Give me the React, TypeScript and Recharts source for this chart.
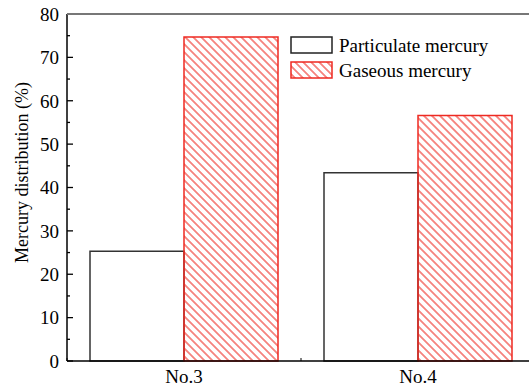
import { BarChart, Bar, XAxis, YAxis, Legend, ReferenceLine } from "recharts";

const sites = ["No.3", "No.4"];
const particulate = [25.3, 43.4];
const gaseous = [74.7, 56.6];
const yTicks = [0, 5, 10, 15, 20, 25, 30, 35, 40, 45, 50, 55, 60, 65, 70, 75, 80];

const FONT = '"Liberation Serif", Tinos, "DejaVu Serif", serif';
const RED = "#ee2a22";
const CHART_W = 540;
const CHART_H = 387;
const MARGIN = { top: 14, right: 5, left: 0, bottom: 0 };
const Y_W = 67;

const data = sites.map((site, i) => ({
  site,
  particulate: particulate[i],
  gaseous: gaseous[i],
}));

const halfBand = (CHART_W - MARGIN.left - MARGIN.right - Y_W) / sites.length / 2;
const textStyle = { fontFamily: FONT, fontSize: 19 };

function HatchDef({ id }: { id: string }) {
  return (
    <pattern id={id} patternUnits="userSpaceOnUse" width={10} height={5.66} patternTransform="rotate(45)">
      <line x1={0} y1={2.83} x2={10} y2={2.83} stroke={RED} strokeWidth={1.1} />
    </pattern>
  );
}

function YTick(props: any) {
  const { x, y, payload } = props;
  const major = payload.value % 10 === 0;
  return (
    <g>
      <line x1={x} x2={x + (major ? 6 : 3)} y1={y} y2={y} stroke="#000" strokeWidth={1.3} />
      {major && (
        <text x={x - 8} y={y} dy="0.36em" textAnchor="end" style={textStyle} fill="#000">
          {payload.value}
        </text>
      )}
    </g>
  );
}

function XTick(props: any) {
  const { x, y, payload, index, visibleTicksCount } = props;
  const half = payload.offset || halfBand;
  return (
    <g>
      <line x1={x - half} x2={x - half} y1={y} y2={y - 3} stroke="#000" />
      {index === visibleTicksCount - 1 && (
        <line x1={x + half} x2={x + half} y1={y} y2={y - 3} stroke="#000" />
      )}
      <text x={x} y={y + 22} textAnchor="middle" style={textStyle} fill="#000">
        {payload.value}
      </text>
    </g>
  );
}

function LegendBox() {
  const rows = [
    { name: "Particulate mercury", fill: "#fff", stroke: "#222" },
    { name: "Gaseous mercury", fill: "url(#hatch-legend)", stroke: RED },
  ];
  return (
    <div style={{ fontFamily: FONT, fontSize: 19, color: "#000", lineHeight: "25px" }}>
      {rows.map((r, i) => (
        <div key={r.name} style={{ display: "flex", alignItems: "center", height: 25 }}>
          <svg width={44} height={19} style={{ marginRight: 5 }}>
            {i === 1 && (
              <defs>
                <HatchDef id="hatch-legend" />
              </defs>
            )}
            <rect x={1} y={1} width={41} height={16} fill={r.fill} stroke={r.stroke} strokeWidth={1.5} />
          </svg>
          <span>{r.name}</span>
        </div>
      ))}
    </div>
  );
}

export default function App() {
  return (
    <div style={{ position: "fixed", left: 0, top: 0, width: 529, height: 387, overflow: "hidden", background: "#fff" }}>
      <BarChart width={CHART_W} height={CHART_H} data={data} margin={MARGIN} barCategoryGap={23} barGap={0}>
        <defs>
          <HatchDef id="hatch" />
        </defs>
        <XAxis
          dataKey="site"
          height={26}
          tickSize={0}
          tickMargin={0}
          tick={<XTick />}
          tickLine={false}
          axisLine={{ stroke: "#000", strokeWidth: 1.5 }}
        />
        <YAxis
          width={Y_W}
          domain={[0, 80]}
          ticks={yTicks}
          interval={0}
          tickSize={0}
          tickMargin={0}
          tick={<YTick />}
          tickLine={false}
          axisLine={{ stroke: "#000", strokeWidth: 1.5 }}
          label={({ viewBox }: any) => {
            const cx = 22;
            const cy = viewBox ? viewBox.y + viewBox.height / 2 - 15 : 172;
            return (
              <text x={cx} y={cy} transform={`rotate(-90, ${cx}, ${cy})`} textAnchor="middle" dominantBaseline="central" style={{ fontFamily: FONT, fontSize: 18 }} fill="#000">
                Mercury distribution (%)
              </text>
            );
          }}
        />
        <ReferenceLine y={80} stroke="#777" strokeWidth={1.4} ifOverflow="visible" />
        <Legend
          layout="vertical"
          align="center"
          verticalAlign="middle"
          content={<LegendBox />}
          wrapperStyle={{ top: 33, left: 290, width: "auto" }}
        />
        <Bar dataKey="particulate" name="Particulate mercury" fill="#fff" stroke="#333" strokeWidth={1.5} isAnimationActive={false} />
        <Bar dataKey="gaseous" name="Gaseous mercury" fill="url(#hatch)" stroke={RED} strokeWidth={1.5} isAnimationActive={false} />
      </BarChart>
      {/* top frame edge */}
      <div style={{ position: "absolute", top: MARGIN.top - 1, left: MARGIN.left + Y_W, right: 0, height: 1.5, background: "#777" }} />
    </div>
  );
}
